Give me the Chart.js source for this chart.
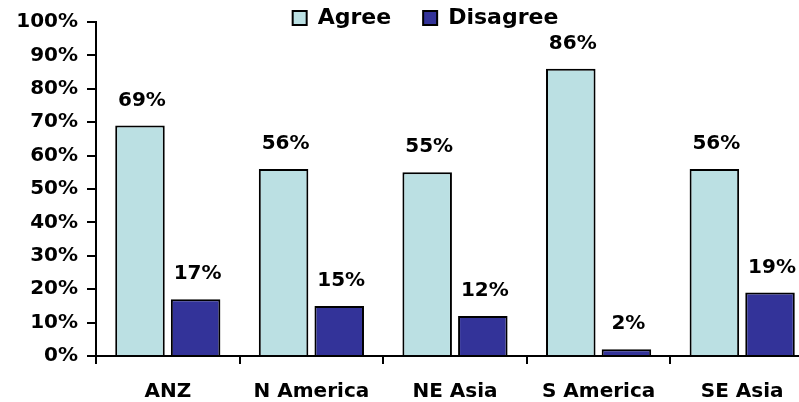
<!DOCTYPE html>
<html>
<head>
<meta charset="utf-8">
<script src="https://cdn.jsdelivr.net/npm/chart.js@4.4.1/dist/chart.umd.min.js"></script>
<style>
  html, body { margin: 0; padding: 0; background: #fff; overflow: hidden; }
  canvas { display: block; }
</style>
</head>
<body>
<canvas id="myBarChart" width="851" height="402"></canvas>
<script>
const regions = ["ANZ", "N America", "NE Asia", "S America", "SE Asia"];
const agree = [69, 56, 55, 86, 56];
const disagree = [17, 15, 12, 2, 19];
const yTicks = [0, 10, 20, 30, 40, 50, 60, 70, 80, 90, 100];

const FONT = "'DejaVu Sans', Arial, sans-serif";

// legend box sized so the plot starts where the original does,
// and drawn without clipping to that box
const legendHeight = {
  id: 'legendHeight',
  beforeInit(chart) {
    const fitValue = chart.legend.fit;
    chart.legend.fit = function fit() {
      fitValue.bind(chart.legend)();
      this.height = 47;
    };
    chart.legend.draw = function draw() {
      if (this.options.display) this._draw();
    };
  }
};

// percentage labels above the bars
const barLabels = {
  id: 'barLabels',
  afterDatasetsDraw(chart) {
    const ctx = chart.ctx;
    ctx.save();
    ctx.font = "bold 20px " + FONT;
    ctx.fillStyle = "#000";
    ctx.textAlign = "center";
    ctx.textBaseline = "alphabetic";
    chart.data.datasets.forEach((ds, i) => {
      chart.getDatasetMeta(i).data.forEach((bar, j) => {
        ctx.fillText(ds.data[j] + "%", bar.x + 2, bar.y - 20);
      });
    });
    ctx.restore();
  }
};

const barChart = () => {
  const data = {
    labels: regions,
    datasets: [
      {
        label: "Agree",
        data: agree,
        backgroundColor: "#BBE0E3",
        borderColor: "#000",
        borderWidth: 2,
        categoryPercentage: 0.775,
        barPercentage: 0.89,
      },
      {
        label: "Disagree",
        data: disagree,
        backgroundColor: "#333399",
        borderColor: "#000",
        borderWidth: 2,
        categoryPercentage: 0.775,
        barPercentage: 0.89,
      },
    ],
  };

  const config = {
    type: "bar",
    data: data,
    options: {
      responsive: false,
      animation: false,
      devicePixelRatio: 1,
      layout: { padding: { top: -25, left: 0, right: 0, bottom: 0 } },
      plugins: {
        legend: {
          position: "top",
          labels: {
            boxWidth: 14,
            boxHeight: 14,
            padding: 32,
            color: "#000",
            font: { family: FONT, size: 22, weight: "bold" },
          },
        },
        tooltip: { enabled: false },
      },
      scales: {
        x: {
          grid: {
            offset: true,
            drawOnChartArea: false,
            drawTicks: true,
            tickLength: 8,
            color: "#000",
            lineWidth: 2,
          },
          border: { color: "#000", width: 2 },
          ticks: {
            color: "#000",
            padding: 16,
            font: { family: FONT, size: 20, weight: "bold" },
          },
          afterFit: (s) => { s.height = 46; },
        },
        y: {
          min: 0,
          max: 100,
          afterBuildTicks: (s) => { s.ticks = yTicks.map((v) => ({ value: v })); },
          grid: {
            drawOnChartArea: false,
            drawTicks: true,
            tickLength: 9,
            color: "#000",
            lineWidth: 2,
          },
          border: { color: "#000", width: 2 },
          ticks: {
            color: "#000",
            padding: 9,
            font: { family: FONT, size: 20, weight: "bold" },
            callback: (v) => v + "%",
          },
          afterFit: (s) => { s.width = 96; },
        },
        y2: {
          position: "right",
          display: true,
          grid: { display: false },
          border: { display: false },
          ticks: { display: false },
          afterFit: (s) => { s.width = 37; },
        },
      },
    },
    plugins: [legendHeight, barLabels],
  };

  var ctx = document.getElementById("myBarChart").getContext("2d");
  new Chart(ctx, config);
};

barChart();
</script>
</body>
</html>
